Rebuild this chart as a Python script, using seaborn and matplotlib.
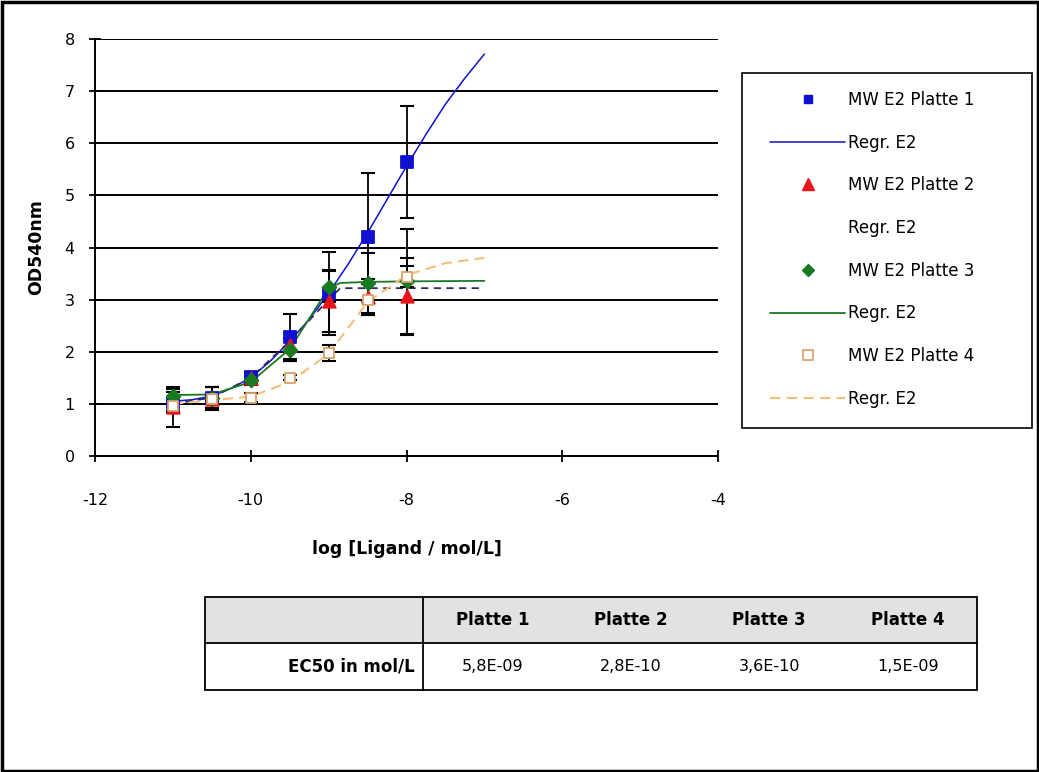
import numpy as np
import pandas as pd
import matplotlib
matplotlib.use("Agg")
import matplotlib.pyplot as plt
from matplotlib.lines import Line2D
from matplotlib.patches import Rectangle
import seaborn as sns

# ---------------- data ----------------
log_conc = [-11, -10.5, -10, -9.5, -9, -8.5, -8]

p1_mean = [1.02, 1.12, 1.52, 2.28, 3.12, 4.20, 5.64]
p1_err = [0.20, 0.20, 0.10, 0.45, 0.80, 1.23, 1.07]
p2_mean = [0.94, 1.10, 1.50, 2.12, 2.97, 3.05, 3.06]
p2_err = [0.38, 0.22, 0.10, 0.25, 0.60, 0.35, 0.74]
p3_mean = [1.16, 1.12, 1.45, 2.04, 3.25, 3.32, 3.35]
p3_err = [0.12, 0.20, 0.08, 0.22, 0.30, 0.57, 1.00]
p4_mean = [0.95, 1.10, 1.12, 1.50, 1.98, 3.00, 3.44]
p4_err = [0.08, 0.05, 0.08, 0.05, 0.15, 0.30, 0.20]

# regression curves
r1_x = [-11, -10.75, -10.5, -10.25, -10, -9.75, -9.5, -9.25, -9, -8.75, -8.5,
        -8.25, -8, -7.75, -7.5, -7.25, -7]
r1_y = [1.05, 1.08, 1.15, 1.30, 1.50, 1.82, 2.20, 2.62, 3.12, 3.68, 4.28,
        4.92, 5.56, 6.17, 6.75, 7.25, 7.71]
r2_x = [-11, -10.5, -10, -9.5, -9, -8.85, -8.5, -8, -7.5, -7]
r2_y = [1.00, 1.12, 1.50, 2.20, 3.00, 3.22, 3.22, 3.22, 3.22, 3.22]
r3_x = [-11, -10.5, -10, -9.5, -9, -8.85, -8.5, -8, -7]
r3_y = [1.17, 1.18, 1.42, 2.05, 3.22, 3.32, 3.34, 3.35, 3.36]
r4_x = [-11, -10.5, -10, -9.5, -9, -8.5, -8, -7.5, -7]
r4_y = [1.00, 1.07, 1.14, 1.42, 1.96, 2.95, 3.47, 3.70, 3.80]

table_cols = ["Platte 1", "Platte 2", "Platte 3", "Platte 4"]
table_row_label = "EC50 in mol/L"
table_vals = ["5,8E-09", "2,8E-10", "3,6E-10", "1,5E-09"]

legend_labels = ["MW E2 Platte 1", "Regr. E2", "MW E2 Platte 2", "Regr. E2",
                 "MW E2 Platte 3", "Regr. E2", "MW E2 Platte 4", "Regr. E2"]

x_ticks = [-12, -10, -8, -6, -4]
y_ticks = [0, 1, 2, 3, 4, 5, 6, 7, 8]

# ---------------- style ----------------
sns.set_style("white")
plt.rcParams["font.family"] = ["DejaVu Sans"]
plt.rcParams["axes.unicode_minus"] = False
plt.rcParams["text.color"] = "black"
plt.rcParams["axes.labelcolor"] = "black"
plt.rcParams["xtick.color"] = "black"
plt.rcParams["ytick.color"] = "black"

W, H = 1039, 772
fig = plt.figure(figsize=(W / 100, H / 100), dpi=100)
fig.patch.set_facecolor("white")

ax = fig.add_axes([95 / W, 1 - 456 / H, (718 - 95) / W, (456 - 39) / H])
ax.set_xlim(-12, -4)
ax.set_ylim(0, 8)

for yv in y_ticks[1:]:
    ax.axhline(yv, color="black", lw=1.4, zorder=1)

c1, c2, c3, c4 = "#1010d0", "#e8141c", "#1a7a22", "#d9a066"
c4line = "#f2c07a"
c2line = "#2e2a5a"

curves = [
    (r1_x, r1_y, c1, "-", 1.1),
    (r2_x, r2_y, c2line, (0, (4, 3)), 1.3),
    (r3_x, r3_y, c3, "-", 1.3),
    (r4_x, r4_y, c4line, (0, (5, 3)), 1.5),
]
for xs, ys, col, ls, lw in curves:
    df = pd.DataFrame({"x": xs, "y": ys})
    sns.lineplot(data=df, x="x", y="y", ax=ax, color=col, lw=lw, linestyle=ls,
                 sort=False, estimator=None, zorder=3, legend=False)

series = [
    (p1_mean, p1_err, c1, "s", c1, 8),
    (p2_mean, p2_err, c2, "^", c2, 9),
    (p3_mean, p3_err, c3, "D", c3, 7),
    (p4_mean, p4_err, c4, "s", "white", 7.5),
]
for m, e, col, mk, fc, ms in series:
    ax.errorbar(log_conc, m, yerr=e, fmt="none", ecolor="black", elinewidth=1.3,
                capsize=5, capthick=1.5, zorder=4)
    df = pd.DataFrame({"x": log_conc, "y": m})
    sns.scatterplot(data=df, x="x", y="y", ax=ax, marker=mk, s=ms ** 2,
                    color=fc, edgecolor=col, linewidth=1.3, zorder=5, legend=False)

for s in ["top", "right"]:
    ax.spines[s].set_visible(False)
for s in ["left", "bottom"]:
    ax.spines[s].set_color("black")
    ax.spines[s].set_linewidth(1.4)

ax.set_xticks(x_ticks)
ax.set_yticks(y_ticks)
ax.tick_params(axis="x", direction="inout", length=9, width=1.3, pad=22,
               labelsize=11.5, bottom=True, colors="black")
ax.tick_params(axis="y", direction="inout", length=9, width=1.3, pad=10,
               labelsize=11.5, left=True, colors="black")
ax.set_xlabel("log [Ligand / mol/L]", fontsize=12.5, fontweight="bold",
              labelpad=23, color="black")
ax.set_ylabel("OD540nm", fontsize=12.5, fontweight="bold", labelpad=14,
              color="black")

# legend
handles = [
    Line2D([], [], ls="none", marker="s", ms=6, color=c1),
    Line2D([], [], color=c1, lw=1.1),
    Line2D([], [], ls="none", marker="^", ms=8, color=c2),
    Line2D([], [], ls="none"),
    Line2D([], [], ls="none", marker="D", ms=6, color=c3),
    Line2D([], [], color=c3, lw=1.3),
    Line2D([], [], ls="none", marker="s", ms=7, mfc="white", mec=c4, mew=1.2),
    Line2D([], [], color=c4line, lw=1.5, ls=(0, (5, 3))),
]
leg = fig.legend(handles, legend_labels, loc="upper left",
                 bbox_to_anchor=(770 / W, 1 - 91 / H), frameon=False,
                 fontsize=12, handlelength=4.5, handletextpad=0.18,
                 labelspacing=1.48, borderpad=0, borderaxespad=0)

# table / frames overlay
tab = fig.add_axes([0, 0, 1, 1], facecolor="none")
tab.set_xlim(0, W)
tab.set_ylim(H, 0)
tab.axis("off")

# legend frame
tab.add_patch(Rectangle((742, 73), 1032 - 742, 428 - 73, facecolor="none",
                        edgecolor="black", lw=1.2))

x0, x1, x_end = 205, 423, 977
y0, y1, y2 = 597, 643, 690
tab.add_patch(Rectangle((x0, y0), x_end - x0, y1 - y0, facecolor="#e2e2e2",
                        edgecolor="none"))
tab.add_patch(Rectangle((x0, y0), x_end - x0, y2 - y0, facecolor="none",
                        edgecolor="black", lw=1.3))
tab.plot([x0, x_end], [y1, y1], color="black", lw=1.3)
tab.plot([x1, x1], [y0, y2], color="black", lw=1.3)
colw = (x_end - x1) / 4
for i, (c, v) in enumerate(zip(table_cols, table_vals)):
    cx = x1 + colw * (i + 0.5)
    tab.text(cx, (y0 + y1) / 2, c, ha="center", va="center", fontsize=12,
             fontweight="bold", color="black")
    tab.text(cx, (y1 + y2) / 2, v, ha="center", va="center", fontsize=11.5,
             color="black")
tab.text(x1 - 8, (y1 + y2) / 2, table_row_label, ha="right", va="center",
         fontsize=12, fontweight="bold", color="black")

# outer border
tab.add_patch(Rectangle((1.5, 1.5), W - 3, H - 3, facecolor="none",
                        edgecolor="black", lw=2.5))

fig.savefig("out.png", dpi=100)
